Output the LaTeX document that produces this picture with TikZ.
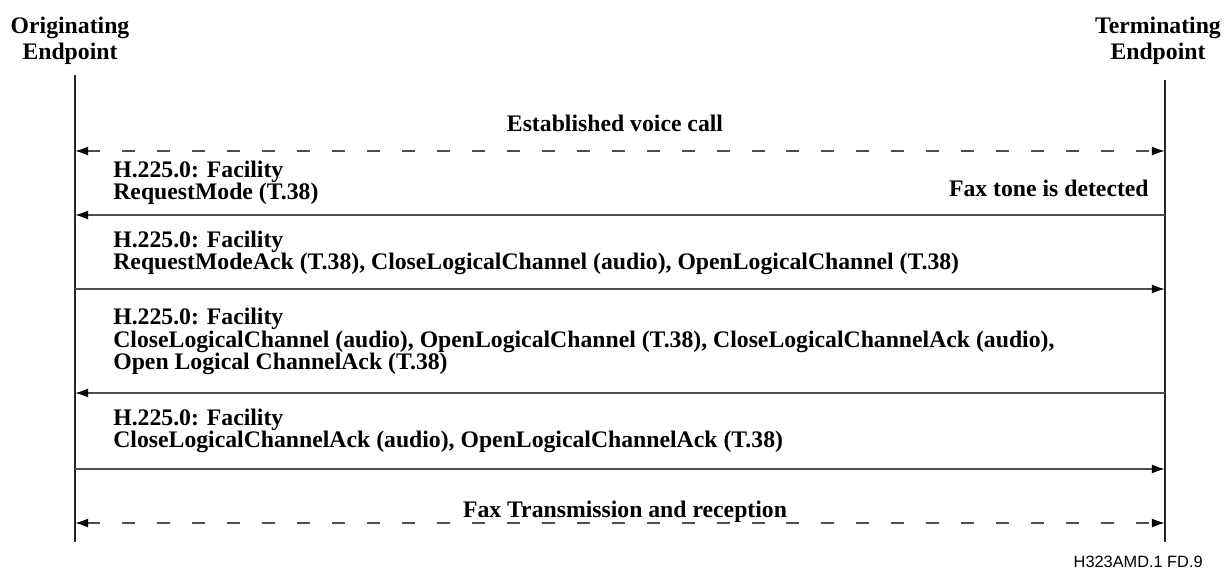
\documentclass[tikz,border=0pt]{standalone}
\usepackage{fontspec}
\setmainfont{Liberation Serif}
\newfontfamily\figidfont{Liberation Sans}
\usetikzlibrary{arrows.meta}
\definecolor{msggray}{HTML}{4D4D4D}
\definecolor{lifegray}{HTML}{262626}

\begin{document}
\begin{tikzpicture}[x=0.02cm, y=-0.02cm,
    endpoint/.style={font=\bfseries\fontsize{13.5}{15.2}\selectfont, align=center, inner sep=0pt, anchor=base},
    msgtext/.style={font=\bfseries\fontsize{13.5}{13}\selectfont, align=left, inner sep=0pt, anchor=base west},
    lifeline/.style={lifegray, line width=0.8pt},
    msg/.style={msggray, line width=1.1pt, -{Latex[length=7.5pt, width=5.2pt, color=black]}},
    media/.style={msggray, line width=1.1pt, dash pattern=on 7.4pt off 12.5pt,
      {Latex[length=7.5pt, width=5.2pt, color=black]}-{Latex[length=7.5pt, width=5.2pt, color=black]}}]
  \useasboundingbox (0,0) rectangle (1225,570);

  % endpoints and lifelines
  \node[endpoint] (orig) at (70,60) {Originating\\Endpoint};
  \node[endpoint] (term) at (1158,60) {Terminating\\Endpoint};
  \coordinate (otop) at (75,75);
  \coordinate (obot) at (75,542);
  \coordinate (ttop) at (1165,80);
  \coordinate (tbot) at (1165,542);
  \draw[lifeline] (otop) -- (obot);
  \draw[lifeline] (ttop) -- (tbot);

  % message levels
  \coordinate (o1) at (75,151);   \coordinate (t1) at (1165,151);
  \coordinate (o2) at (75,215);   \coordinate (t2) at (1165,215);
  \coordinate (o3) at (75,289);   \coordinate (t3) at (1165,289);
  \coordinate (o4) at (75,393);   \coordinate (t4) at (1165,393);
  \coordinate (o5) at (75,469);   \coordinate (t5) at (1165,469);
  \coordinate (o6) at (75,523);   \coordinate (t6) at (1165,523);

  % established call
  \draw[media] (o1) -- (t1);
  \node[msgtext, anchor=base] (voice) at (615,131.7) {Established voice call};

  % mode request
  \draw[msg] (t2) -- (o2);
  \node[msgtext] (reqmode) at (113,200) {H.225.0: Facility\\RequestMode (T.38)};
  \node[msgtext, anchor=base east] (tone) at (1149,196.7) {Fax tone is detected};

  % mode acknowledge
  \draw[msg] (o3) -- (t3);
  \node[msgtext] (reqack) at (113,270) {H.225.0: Facility\\RequestModeAck (T.38), CloseLogicalChannel (audio), OpenLogicalChannel (T.38)};

  % channel switch
  \draw[msg] (t4) -- (o4);
  \node[msgtext] (chswitch) at (113,370) {H.225.0: Facility\\CloseLogicalChannel (audio), OpenLogicalChannel (T.38), CloseLogicalChannelAck (audio),\\Open Logical ChannelAck (T.38)};

  % channel acknowledge
  \draw[msg] (o5) -- (t5);
  \node[msgtext] (chack) at (113,448) {H.225.0: Facility\\CloseLogicalChannelAck (audio), OpenLogicalChannelAck (T.38)};

  % fax session
  \draw[media] (o6) -- (t6);
  \node[msgtext, anchor=base] (fax) at (625,518) {Fax Transmission and reception};

  \node[font=\figidfont\fontsize{9.3}{11}\selectfont, inner sep=0pt, anchor=base east] (figid) at (1203,568) {H323AMD.1 FD.9};
\end{tikzpicture}
\end{document}
